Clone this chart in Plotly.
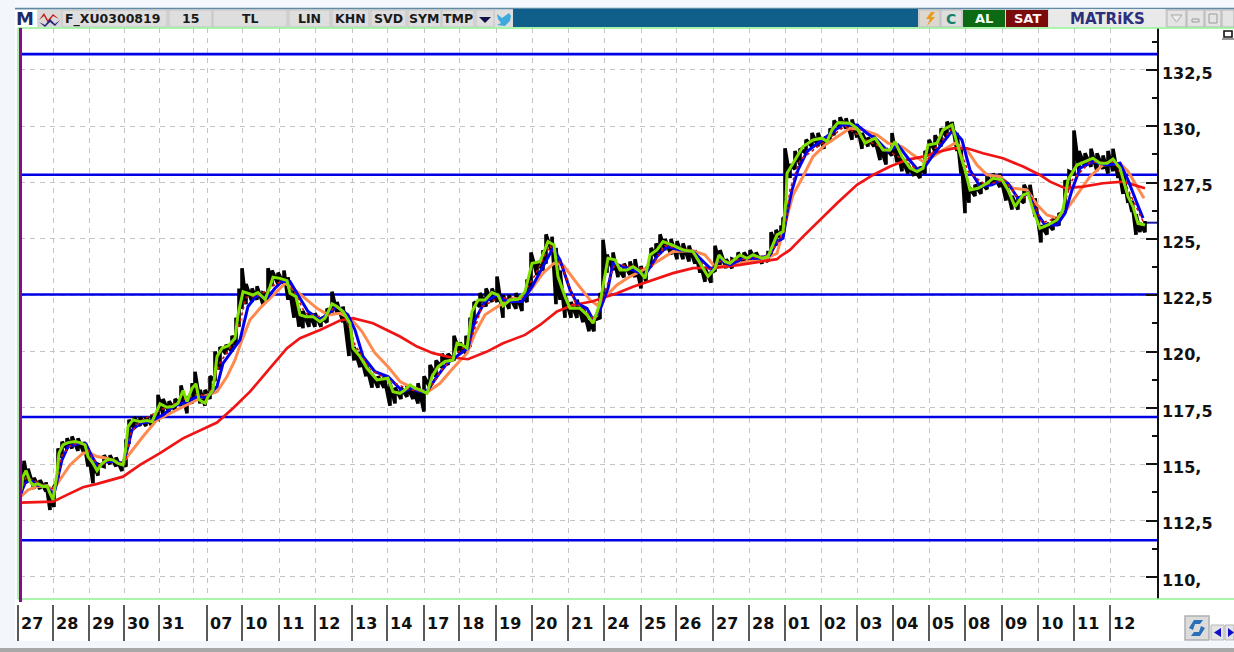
import plotly.graph_objects as go

# ---------- horizontal axis (one unit is one bar slot) ----------
session_labels = ["27","28","29","30","31","07","10","11","12","13","14","17","18","19","20","21",
                  "24","25","26","27","28","01","02","03","04","05","08","09","10","11","12"]
session_starts = [18,53,89,124,159,207,242,279,315,352,387,424,459,496,532,568,604,641,676,713,749,
                  785,821,857,893,929,965,1002,1038,1074,1110]
extra_grid = [193]

# ---------- price axis ----------
price_ticks = [132.5,130,127.5,125,122.5,120,117.5,115,112.5,110]
price_labels = ["132,5","130,","127,5","125,","122,5","120,","117,5","115,","112,5","110,"]
minor_ticks = [133.75,131.25,128.75,126.25,123.75,121.25,118.75,116.25,113.75,111.25]
levels = [133.2,127.85,122.53,117.1,111.63]
last_price = 125.72

# ---------- high / low bars ----------
bar_x = [21,24,28,34,40,46,50,54,58,62,67,72,78,84,88,93,98,104,110,116,122,126,129,134,140,146,152,158,163,169,175,181,187,192,195,200,205,210,215,220,226,232,236,239,242,246,252,257,263,268,272,278,284,288,294,299,303,309,315,321,327,332,337,343,349,354,360,366,372,378,384,390,395,401,407,413,418,424,430,436,442,448,454,460,466,470,474,480,486,492,497,503,509,516,522,527,531,537,543,546,552,556,560,565,571,577,583,589,594,600,603,607,613,618,624,630,635,641,646,651,656,660,665,671,677,683,689,695,700,705,711,715,720,726,732,738,744,750,756,762,768,771,776,781,783,785,790,795,800,806,812,818,824,830,834,840,846,852,857,862,868,874,880,886,892,897,902,908,914,920,925,929,935,941,947,952,957,961,965,969,975,981,987,993,1000,1006,1012,1018,1024,1030,1035,1041,1047,1053,1059,1065,1069,1074,1079,1085,1091,1097,1103,1108,1113,1118,1123,1128,1132,1136,1140,1145]
bar_high = [115.0,115.15,114.8,114.4,114.3,114.2,113.9,114.0,115.7,116.0,116.15,116.23,116.15,116.0,115.7,115.1,115.0,115.4,115.4,115.3,115.1,116.1,116.97,117.1,117.1,117.1,117.1,118.08,117.9,117.8,117.9,118.5,118.0,118.6,119.1,118.3,118.3,118.9,120.0,120.2,120.3,120.7,121.5,122.8,123.7,123.0,122.8,122.9,122.6,123.7,123.6,123.5,123.6,123.3,122.8,121.9,121.8,121.7,121.7,121.5,121.9,122.66,122.2,122.0,121.5,120.2,120.0,119.5,119.0,118.9,118.9,118.6,118.4,118.4,118.5,118.4,118.6,118.9,119.4,119.6,119.9,119.9,120.7,120.4,120.7,121.5,122.2,122.6,122.8,122.8,123.33,122.5,122.5,122.6,122.5,123.2,124.4,124.0,124.5,125.2,125.1,124.6,123.6,122.5,122.2,122.3,122.0,121.4,121.4,122.6,124.96,124.3,124.4,123.7,123.9,124.0,124.1,123.8,123.6,124.6,124.8,125.2,125.0,125.0,124.9,124.8,124.7,124.5,124.0,123.7,123.5,124.7,124.5,124.1,124.1,124.4,124.4,124.5,124.4,124.2,124.4,125.3,125.4,125.6,125.9,129.02,128.3,128.9,129.0,129.4,129.7,129.7,129.5,129.9,130.25,130.4,130.35,130.3,130.1,129.7,129.5,129.6,129.2,129.0,129.7,129.1,128.6,128.3,128.1,128.2,128.9,129.4,129.6,129.9,130.2,130.2,129.7,129.0,127.9,127.3,127.4,127.5,127.8,127.9,127.9,127.5,126.9,126.8,127.4,127.4,126.8,125.6,125.7,125.9,126.1,127.6,128.0,129.81,128.9,128.8,129.0,128.8,128.7,128.9,129.0,128.4,128.0,127.0,126.7,126.1,125.7,125.8]
bar_low = [113.6,114.1,114.2,113.9,113.9,113.8,112.97,113.1,114.3,115.3,115.7,115.7,115.6,115.5,114.9,114.16,114.5,114.9,115.0,114.9,114.7,114.9,115.9,116.6,116.7,116.7,116.7,117.0,117.2,117.3,117.4,117.6,117.26,117.7,118.0,117.7,117.6,117.9,118.7,119.2,119.9,120.0,120.3,121.1,121.9,122.1,122.2,122.3,122.1,122.5,122.9,123.0,123.0,122.3,121.5,121.1,121.04,121.1,121.1,121.1,121.3,121.7,121.7,121.3,119.8,119.6,119.3,118.9,118.4,118.4,118.4,117.6,117.7,117.9,118.0,117.9,117.7,117.34,118.4,118.9,119.3,119.4,119.6,119.9,119.9,120.2,121.2,122.0,122.0,122.2,122.2,121.5,121.9,121.9,121.8,122.2,122.8,123.4,123.6,123.9,124.4,122.1,122.3,121.5,121.5,121.5,121.3,120.9,120.9,121.5,122.3,123.5,123.6,123.3,123.3,123.4,123.3,122.8,123.1,123.8,124.2,124.4,124.5,124.3,124.1,124.1,124.0,123.9,123.5,123.1,123.06,123.6,123.8,123.7,123.7,124.0,123.9,124.0,124.0,123.9,124.0,124.4,124.7,125.0,125.1,126.0,127.7,128.1,128.3,128.8,129.1,129.1,129.0,129.3,129.6,129.9,129.9,129.4,129.5,129.0,129.1,129.1,128.5,128.3,128.7,128.4,128.0,127.9,127.8,127.7,127.9,128.7,128.9,129.1,129.5,129.8,128.9,127.9,126.14,126.6,126.9,127.0,127.2,127.4,127.3,126.7,126.3,126.3,126.6,126.9,126.0,124.84,125.2,125.4,125.6,126.2,127.2,127.9,128.0,128.2,128.2,128.0,128.1,127.9,128.0,127.7,127.0,126.6,126.2,125.18,125.3,125.3]

# ---------- moving averages ----------
green_x = [21,23,26,30,33,38,43,47,50,53,57,59,63,68,75,80,85,88,93,97,102,108,113,118,123,126,128,133,140,147,152,157,160,167,173,178,183,187,192,196,199,205,208,213,217,222,228,235,238,243,248,253,258,265,270,273,280,287,290,296,300,306,313,320,325,332,337,343,350,353,360,367,377,388,393,
           400,405,410,415,420,427,432,438,445,453,457,462,467,472,478,485,492,498,503,510,518,525,532,540,545,548,554,558,565,570,580,587,593,600,605,608,615,620,627,633,640,645,650,657,663,672,683,693,700,708,715,719,725,730,740,747,753,762,768,
           777,783,786,787,793,803,813,822,827,832,838,850,857,865,875,883,890,895,902,910,917,923,928,937,943,952,957,965,970,978,987,993,1002,1008,1015,1023,1028,1033,1040,1048,1057,1063,1068,1077,1085,1093,1100,1107,1113,1120,1128,1133,1138,1145]
green_y = [113.86,114.45,114.72,114.23,114.08,114.13,114.01,114.04,113.71,113.42,114.60,115.49,115.86,115.96,116.01,115.96,115.86,115.34,115.04,114.72,115.04,115.22,115.19,115.04,114.97,115.78,116.67,116.97,116.89,116.94,116.89,117.41,117.68,117.53,117.56,117.71,118.27,117.78,118.37,118.57,117.86,117.71,118.00,118.30,119.78,120.15,120.25,120.59,121.63,122.66,122.59,122.51,122.62,122.32,122.88,123.30,123.25,123.15,122.59,122.44,121.63,121.55,121.55,121.33,121.48,122.12,122.00,121.78,121.26,120.15,119.78,119.26,118.74,118.82,118.22,
           118.15,118.30,118.52,118.37,118.30,118.15,118.89,119.33,119.56,119.63,120.37,120.30,120.15,121.78,122.29,122.29,122.62,122.51,122.03,122.29,122.32,122.66,123.92,123.99,124.51,124.88,124.73,123.33,122.44,121.92,121.92,121.63,121.26,122.14,123.40,124.14,124.07,123.62,123.62,123.77,123.55,123.25,124.29,124.51,124.88,124.73,124.51,124.44,123.92,123.33,123.70,124.29,123.99,123.92,124.29,124.14,124.29,124.14,124.22,
           125.18,125.33,126.73,127.91,128.36,129.10,129.39,129.47,129.32,129.84,130.16,130.13,129.91,129.25,129.47,128.95,128.95,129.32,128.65,128.14,127.99,128.14,129.17,129.25,129.84,130.06,129.25,128.06,127.17,127.25,127.47,127.69,127.62,127.17,126.43,126.95,127.03,126.29,125.47,125.62,125.84,126.29,127.62,128.28,128.43,128.58,128.36,128.36,128.54,128.14,126.88,126.43,125.69,125.62]

thin_x = [21,26,33,50,56,62,72,85,92,100,110,125,131,140,160,180,190,198,208,220,232,240,246,260,272,285,295,305,325,335,345,355,370,390,410,428,440,456,470,482,500,520,535,550,562,575,595,606,615,640,652,665,690,708,720,745,770,785,790,800,830,845,865,885,900,920,935,952,968,985,1005,1020,1030,1042,1060,1072,1090,1115,1130,1145]
thin_y = [113.8,114.4,114.3,113.9,114.0,115.4,115.9,115.9,115.3,114.9,115.2,115.0,116.4,116.9,117.4,117.8,118.0,118.1,118.0,119.5,120.3,121.3,122.4,122.5,122.9,123.2,122.6,121.7,121.5,122.0,121.7,120.3,119.2,118.7,118.3,118.2,119.1,119.9,120.4,122.0,122.4,122.3,123.4,124.7,123.8,122.2,121.4,122.8,123.9,123.7,123.8,124.7,124.5,123.6,124.0,124.1,124.3,125.4,127.2,128.5,129.5,130.0,129.4,129.0,128.6,128.0,129.0,129.9,128.0,127.4,127.6,126.7,127.0,125.7,126.0,127.6,128.4,128.4,127.0,125.6]

blue_x = [21,25,30,37,47,52,55,62,68,80,86,92,98,107,115,123,128,132,140,150,163,173,187,197,207,217,223,233,240,248,257,267,275,282,290,298,308,320,328,337,348,355,363,375,388,400,
          403,410,420,428,437,447,457,468,475,485,497,507,522,532,543,553,560,570,577,587,593,600,608,613,623,633,645,657,667,680,693,702,712,720,730,743,760,770,
          777,783,787,792,798,807,820,833,842,857,867,877,888,898,908,918,925,932,943,953,962,970,980,992,1002,1008,1018,1028,1037,1045,1057,1065,1072,1080,1093,1107,1120,1128,1137,1143]
blue_y = [113.71,114.16,114.30,114.08,114.01,113.71,113.86,115.19,115.78,115.93,115.90,115.34,114.90,115.12,115.12,115.04,115.78,116.52,116.82,116.89,117.19,117.56,117.78,118.00,117.97,118.45,119.48,120.07,120.52,122.00,122.51,122.37,122.81,123.11,123.11,122.51,121.78,121.41,121.70,122.00,121.63,120.96,119.78,119.11,118.89,118.37,
          118.22,118.37,118.22,118.30,118.89,119.48,119.78,120.15,121.41,122.22,122.51,122.22,122.22,122.88,123.77,124.59,124.07,122.74,122.14,121.92,121.41,121.85,122.81,123.92,123.77,123.62,123.40,124.22,124.66,124.51,124.44,124.07,123.62,124.07,123.85,124.14,124.14,124.29,
          124.88,125.03,126.14,127.17,128.06,128.88,129.32,129.76,130.06,130.06,129.69,129.39,128.88,129.17,128.58,128.06,128.21,128.65,129.25,129.84,129.39,128.06,127.32,127.40,127.62,127.47,126.80,127.03,126.14,125.62,125.62,126.14,127.17,128.14,128.43,128.28,128.36,127.62,126.58,125.92]

orange_x = [21,28,37,47,53,60,70,83,89,97,107,115,122,130,143,157,173,187,203,217,227,235,242,250,260,270,285,293,305,317,328,340,352,362,375,388,400,
            410,420,428,440,453,467,475,485,500,513,522,532,543,554,563,577,590,597,607,617,630,643,657,673,693,705,715,728,747,763,777,
            787,793,803,813,825,837,850,863,877,888,902,913,923,933,943,955,967,977,987,1000,1013,1027,1037,1047,1057,1065,1077,1090,1103,1120,1128,1137,1144]
orange_y = [113.57,113.86,114.01,114.04,113.86,114.30,114.97,115.49,115.52,115.34,115.27,115.12,115.04,115.49,116.23,116.97,117.34,117.63,118.00,118.22,118.89,119.63,120.52,121.41,121.92,122.37,123.03,122.81,122.37,121.92,121.63,121.70,121.41,120.89,119.93,119.33,118.67,
            118.45,118.30,118.22,118.59,119.26,119.93,120.81,121.63,122.07,122.37,122.29,122.81,123.48,123.92,123.85,123.03,122.29,122.07,122.51,122.96,123.33,123.62,123.99,124.44,124.47,124.29,123.77,123.80,123.99,124.07,124.36,
            125.99,126.95,127.77,128.65,129.17,129.54,129.91,129.84,129.62,129.25,129.10,128.73,128.43,128.65,128.95,129.25,128.95,128.28,127.84,127.77,127.25,127.17,126.51,126.06,125.92,126.21,126.95,127.77,128.28,128.36,127.99,127.32,126.80]

red_x = [21,47,53,67,83,97,123,140,160,183,217,233,250,267,287,300,320,340,353,373,400,
         417,433,450,468,487,503,525,540,557,573,592,603,617,633,653,673,693,717,740,760,777,
         780,790,803,820,837,857,873,890,907,923,940,953,967,983,1003,1023,1040,1050,1065,1083,1103,1123,1133,1145]
red_y = [113.30,113.34,113.34,113.64,113.98,114.13,114.45,114.97,115.49,116.15,116.85,117.49,118.22,119.11,120.15,120.59,120.96,121.38,121.48,121.26,120.67,
         120.22,119.93,119.75,119.66,120.00,120.37,120.74,121.18,121.78,122.07,122.22,122.37,122.59,122.88,123.18,123.48,123.70,123.73,123.85,123.99,124.10,
         124.22,124.51,125.10,125.84,126.58,127.40,127.84,128.21,128.51,128.65,128.88,129.02,129.02,128.80,128.58,128.21,127.84,127.54,127.25,127.32,127.47,127.54,127.40,127.25]

# ---------- toolbar ----------
tool_labels = ["F_XU0300819","15","TL","LIN","KHN","SVD","SYM","TMP"]
tool_left = [62,169,213,289,332,371,408,442]
tool_right = [167,212,287,330,369,406,441,474]

# ---------- pixel helpers for the window chrome ----------
L, R, T, B = 20, 1157, 28, 599
W, H = 1234, 652
def fx(p): return (p - L) / (R - L)
def fy(p): return (B - p) / (B - T)

shapes = []
def rect(x0, y0, x1, y1, fill, line=None, lw=1):
    shapes.append(dict(type="rect", xref="paper", yref="paper", x0=fx(x0), x1=fx(x1), y0=fy(y0), y1=fy(y1),
                       fillcolor=fill, line=dict(color=line or fill, width=lw if line else 0), layer="above"))
def seg(x0, y0, x1, y1, color, lw=1):
    shapes.append(dict(type="line", xref="paper", yref="paper", x0=fx(x0), x1=fx(x1), y0=fy(y0), y1=fy(y1),
                       line=dict(color=color, width=lw), layer="above"))
def poly(pts, fill, line=None, lw=0):
    d = "M" + " L".join(f"{fx(a):.5f},{fy(b):.5f}" for a, b in pts) + " Z"
    shapes.append(dict(type="path", xref="paper", yref="paper", path=d, fillcolor=fill,
                       line=dict(color=line or fill, width=lw), layer="above"))

annots = []
def label(x, y, text, size=12.5, color="#1a1a1a", anchor="center", weight="bold"):
    annots.append(dict(xref="paper", yref="paper", x=fx(x), y=fy(y), text=text, showarrow=False,
                       xanchor=anchor, yanchor="middle", borderpad=0,
                       font=dict(family="DejaVu Sans", size=size, color=color, weight=weight)))

# page frame
rect(0, 0, 1234, 8, "#f5f8fc")
rect(0, 0, 15, 652, "#f3f7fc")
rect(15, 8, 18, 645, "#fbfcfe")
rect(0, 641, 1234, 648, "#f3f6fb")
rect(0, 648, 1234, 652, "#a8a8a8")

# toolbar
rect(15, 9, 1234, 27, "#dcdcdc")
seg(15, 8.5, 1234, 8.5, "#5f8aa5", 1.5)
rect(15, 10, 37, 27, "#ffffff")
label(25, 18.5, "M", size=18, color="#1d2a6b")
rect(38, 10, 61, 27, "#d9d9d9")
poly([(39,20),(44,13),(48,20),(53,14),(59,19),(53,16),(48,23),(44,16)], "#c62020")
poly([(39,22),(45,25),(50,19),(55,24),(60,20),(55,26),(50,22),(45,27)], "#24247a")
for txt, a, b in zip(tool_labels, tool_left, tool_right):
    rect(a, 10, b, 27, "#dedede", "#c4c4c4", 1)
    if txt == tool_labels[0]:
        label(a + 2, 18.5, txt, anchor="left")
    else:
        label((a + b) / 2, 18.5, txt)
rect(476, 10, 494, 27, "#dedede", "#c4c4c4", 1)
poly([(479,17),(491,17),(485,23)], "#11114a")
rect(495, 10, 513, 27, "#dedede")
poly([(497,14),(502,18),(509,13),(511,16),(510,21),(505,26),(497,25),(501,23),(498,19)], "#3ea9dd")
rect(513, 9, 918, 27, "#0f5f8a")
rect(919, 10, 940, 27, "#dcd8cf", "#bdbdbd", 1)
poly([(931,12),(926,19),(930,19),(927,26),(935,17),(931,17),(935,12)], "#e89a1c")
rect(941, 10, 962, 27, "#dedede", "#bdbdbd", 1)
label(951.5, 18.5, "C", size=14, color="#13806b")
rect(963, 10, 1005, 27, "#0d6a14")
label(984, 18.5, "AL", size=13, color="#f4fff4")
rect(1006, 10, 1048, 27, "#7b0a0a")
label(1027, 18.5, "SAT", size=13, color="#fff4f4")
rect(1049, 9, 1165, 27, "#e9e9e9")
label(1107, 19, "MATRiKS", size=15, color="#2b2f7c")
rect(1167, 10, 1186, 27, "#e4e4e4", "#b5b5b5", 1)
poly([(1171,15),(1182,15),(1176.5,22)], "#ececec", "#a8a8a8", 1)
rect(1187, 10, 1204, 27, "#e4e4e4", "#b5b5b5", 1)
rect(1192, 19, 1199, 22, "#e4e4e4", "#9a9a9a", 1)
rect(1205, 10, 1221, 27, "#e4e4e4", "#b5b5b5", 1)
rect(1209, 14, 1217, 23, "#e4e4e4", "#9a9a9a", 1)
rect(1222, 10, 1234, 27, "#e4e4e4", "#b5b5b5", 1)
# frame lines
seg(18, 28, 1234, 28, "#8ff08f", 1.5)
seg(18, 599, 1234, 599, "#8ff08f", 1.5)
seg(18, 28, 18, 599, "#8ff08f", 1.5)
seg(20.5, 28, 20.5, 602, "#8b0a8b", 3)
# little pin at upper right
rect(1224, 31, 1232, 37, "#ffffff", "#111111", 1.6)
seg(1222, 39, 1234, 39, "#777777", 1.5)
# session ticks below the axis
for p in session_starts:
    seg(p, 605, p, 641, "#222222", 1.5)
for p, t in zip(session_starts, session_labels):
    annots.append(dict(xref="paper", yref="paper", x=fx(p + 1), y=fy(623), text=t, showarrow=False,
                       xanchor="left", yanchor="middle",
                       font=dict(family="DejaVu Sans", size=16, color="#111111", weight="bold")))
# buttons bottom right
rect(1185, 616, 1209, 640, "#dcdcdc", "#b0b0b0", 1.5)
poly([(1189,628),(1194,620),(1203,620),(1200,624),(1195,624),(1193,630)], "#2a6fb8")
poly([(1205,628),(1200,636),(1191,636),(1194,632),(1199,632),(1201,626)], "#2a6fb8")
rect(1211, 625, 1224, 640, "#e4e4e4", "#b5b5b5", 1)
poly([(1221,628),(1221,637),(1214,632.5)], "#1010c8")
rect(1225, 625, 1234, 640, "#e4e4e4", "#b5b5b5", 1)
poly([(1228,628),(1228,637),(1234,632.5)], "#1010c8")

fig = go.Figure()

# levels
for lv in levels:
    fig.add_trace(go.Scatter(x=[L, R], y=[lv, lv], mode="lines", line=dict(color="#0000e6", width=2.6), hoverinfo="skip"))
fig.add_trace(go.Scatter(x=[1146, R], y=[last_price, last_price], mode="lines", line=dict(color="#1a1aa0", width=2), hoverinfo="skip"))

# bars, joined so the ranges read as a continuous jagged band
xs, ys = [], []
for a, h, l in zip(bar_x, bar_high, bar_low):
    xs += [a, a]
    ys += [l, h]
fig.add_trace(go.Scatter(x=xs, y=ys, mode="lines", line=dict(color="#000000", width=3.6), hoverinfo="skip"))

fig.add_trace(go.Scatter(x=orange_x, y=orange_y, mode="lines", line=dict(color="#ff8a50", width=3), hoverinfo="skip"))
fig.add_trace(go.Scatter(x=red_x, y=red_y, mode="lines", line=dict(color="#f01414", width=2.7), hoverinfo="skip"))
fig.add_trace(go.Scatter(x=blue_x, y=blue_y, mode="lines", line=dict(color="#0000f0", width=3), hoverinfo="skip"))
fig.add_trace(go.Scatter(x=thin_x, y=thin_y, mode="lines", line=dict(color="#d01010", width=1.6, dash="dot"), hoverinfo="skip"))
fig.add_trace(go.Scatter(x=green_x, y=green_y, mode="lines", line=dict(color="#7fe000", width=3), hoverinfo="skip"))

grid = "#c4c4c4"
fig.update_layout(
    width=W, height=H, autosize=False, showlegend=False,
    paper_bgcolor="#ffffff", plot_bgcolor="#ffffff",
    margin=dict(l=L, r=W - R, t=T, b=H - B, pad=0),
    shapes=shapes, annotations=annots,
    xaxis=dict(range=[L, R], tickmode="array", tickvals=session_starts, ticktext=[""] * len(session_starts),
               showgrid=True, gridcolor=grid, griddash="5px,5px", gridwidth=1, zeroline=False, showline=False, ticks="",
               minor=dict(tickmode="array", tickvals=extra_grid, showgrid=True, gridcolor=grid, griddash="5px,5px", gridwidth=1, ticks="")),
    yaxis=dict(range=[109.02, 134.36], side="right", tickmode="array", tickvals=price_ticks, ticktext=price_labels,
               showgrid=True, gridcolor=grid, griddash="5px,5px", gridwidth=1, zeroline=False,
               showline=True, linecolor="#111111", linewidth=1.5, ticks="inside", ticklen=11, tickwidth=1.5, tickcolor="#111111",
               ticklabelposition="outside", ticklabelstandoff=0, ticklabelshift=3,
               tickfont=dict(family="DejaVu Sans", size=16, color="#111111", weight="bold"),
               minor=dict(tickmode="array", tickvals=minor_ticks, ticks="inside", ticklen=5, tickwidth=1.5, tickcolor="#111111", showgrid=False)),
)

fig.write_html("out.html", config=dict(displayModeBar=False),
               post_script="document.body.style.margin='0';document.body.style.overflow='hidden';")
